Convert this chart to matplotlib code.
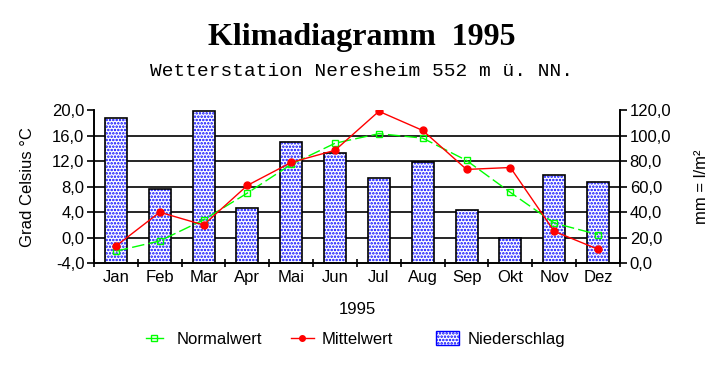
import numpy as np
import matplotlib.pyplot as plt
from matplotlib.patches import Patch
from matplotlib.lines import Line2D

plt.rcParams['font.family'] = ['Liberation Sans', 'DejaVu Sans']
plt.rcParams['hatch.linewidth'] = 1.2

months = ['Jan', 'Feb', 'Mar', 'Apr', 'Mai', 'Jun', 'Jul', 'Aug', 'Sep', 'Okt', 'Nov', 'Dez']
niederschlag = [113.5, 57.9, 119.4, 43.0, 94.7, 86.1, 66.5, 79.5, 41.7, 19.6, 68.9, 63.4]
mittelwert = [-1.3, 4.0, 2.0, 8.2, 11.8, 13.7, 19.8, 16.8, 10.7, 11.0, 1.0, -1.8]
normalwert = [-2.1, -0.5, 2.8, 7.0, 11.5, 14.8, 16.3, 15.6, 12.1, 7.1, 2.3, 0.5]

x = np.arange(len(months))
fs = 12

fig = plt.figure(figsize=(7.23, 3.68), dpi=100)
ax = fig.add_axes([0.130, 0.2845, 0.7275, 0.4165])
ax2 = ax.twinx()

# Niederschlag: bars on the right axis
ax2.bar(x, niederschlag, width=0.5, facecolor='white', edgecolor='#0000ff',
        hatch='.....', linewidth=0, zorder=2)
ax2.bar(x, niederschlag, width=0.5, fill=False, edgecolor='black',
        linewidth=1.2, zorder=3)
ax2.set_ylim(0, 120)
mm_ticks = np.arange(0, 121, 20)
ax2.set_yticks(mm_ticks)
ax2.set_yticklabels([f'{v:.1f}'.replace('.', ',') for v in mm_ticks])
ax2.set_ylabel('mm = l/m²', fontsize=fs, labelpad=16)

# left axis sits behind so the grid lines are hidden by the bars
ax.set_zorder(ax2.get_zorder() - 1)
ax.patch.set_visible(False)
ax.set_ylim(-4, 20)
ax.set_xlim(-0.5, 11.5)
yt = np.arange(-4, 21, 4)
ax.set_yticks(yt)
ax.set_yticklabels([f'{v:.1f}'.replace('.', ',') for v in yt])
for v in yt[1:-1]:
    ax.axhline(v, color='black', linewidth=1.2, zorder=1)
ax.set_ylabel('Grad Celsius °C', fontsize=fs, labelpad=12)

# temperatures plotted on ax2, converted to its scale (-4..20 -> 0..120)
def to_mm(t):
    return (np.asarray(t) + 4) * 5

ax2.plot(x, to_mm(normalwert), color='#00ff00', linewidth=1, linestyle=(0, (9, 3)),
         marker='s', markersize=5, markerfacecolor='none', markeredgecolor='#00ff00',
         zorder=5)
ax2.plot(x, to_mm(mittelwert), color='#ff0000', linewidth=1, marker='o',
         markersize=5, zorder=6)

ax.set_xticks(x)
ax.set_xticklabels(months)
ax.set_xticks(np.arange(-0.5, 12, 1), minor=True)
ax.tick_params(axis='x', which='major', length=0, labelsize=fs, pad=5)
ax.tick_params(axis='x', which='minor', length=6, direction='inout', width=1.2)
ax.tick_params(axis='y', labelsize=fs, length=5, width=1.2, pad=2)
ax2.tick_params(axis='y', labelsize=fs, length=5, width=1.2, pad=2)
ax.set_xlabel('1995', fontsize=fs, labelpad=12)

for a in (ax, ax2):
    a.spines['top'].set_visible(False)
    for s in ('left', 'right', 'bottom'):
        a.spines[s].set_linewidth(1.2)

fig.text(0.5, 0.898, 'Klimadiagramm  1995', ha='center', va='center',
         fontsize=23, fontweight='bold', family='Liberation Serif')
fig.text(0.5, 0.807, 'Wetterstation Neresheim 552 m ü. NN.', ha='center', va='center',
         fontsize=14, family='Liberation Mono')

# legend: one entry each, placed where the reference has them
entries = [
    (Line2D([], [], color='#00ff00', marker='s', markersize=4, markerfacecolor='none',
            linewidth=1), 'Normalwert', 146, 1.0, 0.85),
    (Line2D([], [], color='#ff0000', marker='o', markersize=4, linewidth=1),
     'Mittelwert', 291, 1.35, 0.5),
    (Patch(facecolor='white', edgecolor='#0000ff', hatch='.....'),
     'Niederschlag', 436, 1.35, 0.55),
]
for h, lab, px, hl, hp in entries:
    leg = fig.legend([h], [lab], loc='center left', bbox_to_anchor=(px / 723, 1 - 339 / 368),
                     frameon=False, fontsize=fs, borderpad=0, borderaxespad=0,
                     handlelength=hl, handletextpad=hp, handleheight=0.9)

fig.savefig('out.png', dpi=100, facecolor='white')
